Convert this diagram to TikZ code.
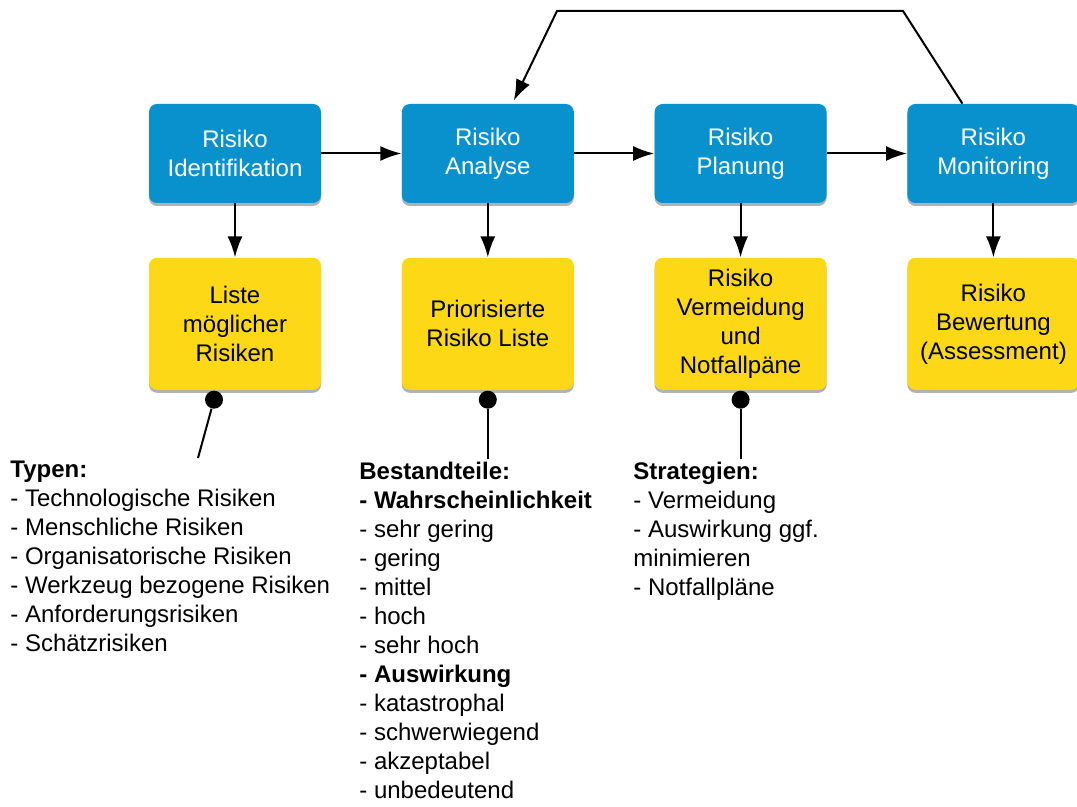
\documentclass[tikz,border=0pt]{standalone}
\usepackage{fontspec}
\setmainfont{Liberation Sans}
\usepackage{tikz}
\usetikzlibrary{positioning, shadows, arrows.meta}
\definecolor{riskblue}{HTML}{0991CD}
\definecolor{riskyellow}{HTML}{FCD816}

\tikzset{
  phase/.style={rectangle, rounded corners=4pt, fill=riskblue, text=white,
    minimum width=86pt, minimum height=49.5pt, align=center, inner sep=2pt,
    drop shadow={shadow xshift=0pt, shadow yshift=-1.5pt, fill=black, opacity=0.3}},
  result/.style={phase, fill=riskyellow, text=black, minimum height=66pt},
  flow/.style={-{Latex[length=10.5pt,width=7.5pt]}, line width=1pt},
  pin/.style={circle, fill=black, inner sep=0pt, minimum size=9pt},
  notes/.style={align=left, anchor=north west, inner sep=0pt},
}

\begin{document}
\begin{tikzpicture}[x=0.5pt, y=-0.5pt, font=\fontsize{12}{14.5}\selectfont]
  \useasboundingbox (0,0) rectangle (1077,807);

  % process steps
  \node[phase] (ident) at (235,153.5) {Risiko\\Identifikation};
  \node[phase, right=40pt of ident] (anal) {Risiko\\Analyse};
  \node[phase, right=40pt of anal] (plan) {Risiko\\Planung};
  \node[phase, right=40pt of plan] (monit) {Risiko\\Monitoring};

  % results
  \node[result, below=27pt of ident] (liste) {Liste\\möglicher\\Risiken};
  \node[result, below=27pt of anal] (prio) {Priorisierte\\Risiko Liste};
  \node[result, below=27pt of plan] (vermeid) {Risiko\\Vermeidung\\und\\Notfallpäne};
  \node[result, below=27pt of monit] (bewert) {Risiko\\Bewertung\\(Assessment)};

  \draw[flow] (ident) -- (anal);
  \draw[flow] (anal) -- (plan);
  \draw[flow] (plan) -- (monit);
  \draw[flow] (ident) -- (liste);
  \draw[flow] (anal) -- (prio);
  \draw[flow] (plan) -- (vermeid);
  \draw[flow] (monit) -- (bewert);

  % feedback loop
  \coordinate (fbR) at (903,11);
  \coordinate (fbL) at (557,11);
  \draw[flow] ([xshift=-15.5pt]monit.north) -- (fbR) -- (fbL) -- ([xshift=13pt,yshift=1.5pt]anal.north);

  % notes
  \node[pin] (pinA) at ([xshift=-10.5pt, yshift=-4.75pt]liste.south) {};
  \node[pin] (pinB) at ([yshift=-4.75pt]prio.south) {};
  \node[pin] (pinC) at ([yshift=-4.75pt]vermeid.south) {};
  \coordinate (tipA) at (198,458);
  \coordinate (tipB) at ([yshift=-29.5pt]pinB.center);
  \coordinate (tipC) at ([yshift=-29.5pt]pinC.center);
  \draw[line width=1pt] (pinA) -- (tipA);
  \draw[line width=1pt] (pinB) -- (tipB);
  \draw[line width=1pt] (pinC) -- (tipC);

  \node[notes] (typen) at (10,461) {\textbf{Typen:}\\
    - Technologische Risiken\\
    - Menschliche Risiken\\
    - Organisatorische Risiken\\
    - Werkzeug bezogene Risiken\\
    - Anforderungsrisiken\\
    - Schätzrisiken};
  \node[notes] (teile) at (359,462) {\textbf{Bestandteile:}\\
    \textbf{- Wahrscheinlichkeit}\\
    - sehr gering\\
    - gering\\
    - mittel\\
    - hoch\\
    - sehr hoch\\
    \textbf{- Auswirkung}\\
    - katastrophal\\
    - schwerwiegend\\
    - akzeptabel\\
    - unbedeutend};
  \node[notes] (strat) at (633,462) {\textbf{Strategien:}\\
    - Vermeidung\\
    - Auswirkung ggf.\\
    minimieren\\
    - Notfallpläne};
\end{tikzpicture}
\end{document}
